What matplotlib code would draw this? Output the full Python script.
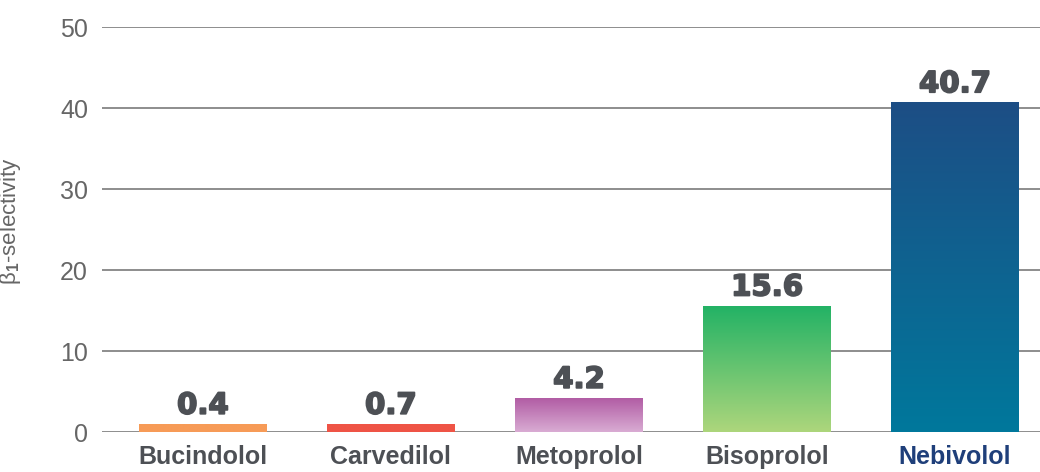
import numpy as np
import matplotlib.pyplot as plt
import matplotlib.patheffects as pe
from matplotlib.colors import LinearSegmentedColormap

# data
drugs = ['Bucindolol', 'Carvedilol', 'Metoprolol', 'Bisoprolol', 'Nebivolol']
selectivity = [0.4, 0.7, 4.2, 15.6, 40.7]
yticks = [0, 10, 20, 30, 40, 50]

# colours (top, bottom) per bar
top_colors = ['#f79b57', '#ef5446', '#b05aa3', '#22b265', '#1d4e85']
bottom_colors = ['#f79b57', '#ef5446', '#d9acd3', '#add67c', '#00789c']

plt.rcParams['font.family'] = ['Liberation Sans', 'DejaVu Sans']
plt.rcParams['mathtext.fontset'] = 'custom'
plt.rcParams['mathtext.rm'] = 'Liberation Sans'
plt.rcParams['mathtext.it'] = 'Liberation Sans'
plt.rcParams['mathtext.bf'] = 'Liberation Sans:bold'

fig = plt.figure(figsize=(10.4, 4.72), dpi=100)
ax = fig.add_axes([0.098, 0.0847, 0.902, 0.858])

x = np.arange(len(drugs))
width = 0.68
# very small values get a minimum visible height, as in the original
heights = [max(v, 1.0) for v in selectivity]

bars = ax.bar(x, heights, width=width, color='none', edgecolor='none', zorder=3)

grad = np.linspace(0, 1, 256).reshape(-1, 1)
for b, ctop, cbot in zip(bars, top_colors, bottom_colors):
    cmap = LinearSegmentedColormap.from_list('g', [cbot, ctop])
    x0 = b.get_x()
    im = ax.imshow(grad, cmap=cmap, origin='lower', aspect='auto',
                   extent=[x0, x0 + b.get_width(), 0, b.get_height()],
                   zorder=3)
    im.set_clip_path(b)

# value labels
for xi, h, v in zip(x, heights, selectivity):
    ax.annotate(f'{v:.1f}', (xi, h), xytext=(0, 3), textcoords='offset points',
                ha='center', va='bottom', fontsize=21, fontweight='bold',
                family='DejaVu Sans', color='#4d5055', zorder=4,
                path_effects=[pe.withStroke(linewidth=1.3, foreground='#4d5055')])

ax.set_xlim(-0.537, 4.452)
ax.set_ylim(0, 50)
ax.set_yticks(yticks)
ax.set_xticks(x)
ax.set_xticklabels(drugs, fontsize=18, fontweight='bold', color='#4d5055')
ax.get_xticklabels()[-1].set_color('#1f3f7a')
ax.tick_params(axis='x', length=0, pad=9)
ax.tick_params(axis='y', length=0, pad=10, labelsize=18, labelcolor='#666666')

ax.grid(axis='y', color='#7a7a7a', lw=1.2, zorder=1)
ax.set_axisbelow(True)
for s in ax.spines.values():
    s.set_visible(False)

ax.set_ylabel('β$_{\\mathbf{1}}$-selectivity', fontsize=16, color='#666666')
ax.yaxis.set_label_coords(-0.084, 0.52)

fig.savefig('out.png', dpi=100)
